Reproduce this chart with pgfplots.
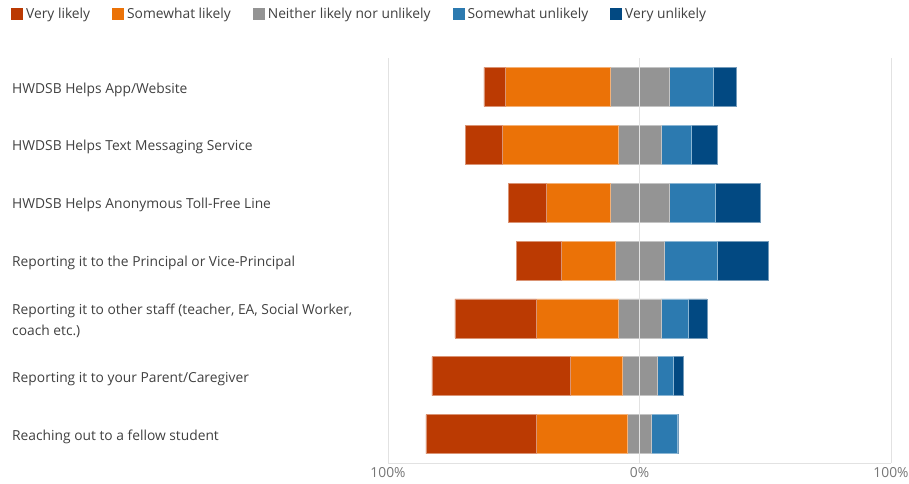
\documentclass[border=0pt]{standalone}
\usepackage{pgfplots}
\pgfplotsset{compat=1.18}
\usepackage{pgfplotstable}
\usepackage{fontspec}
\setmainfont{Open Sans}

\definecolor{vl}{RGB}{187,58,2}
\definecolor{sl}{RGB}{235,114,7}
\definecolor{nn}{RGB}{148,148,148}
\definecolor{su}{RGB}{44,122,176}
\definecolor{vu}{RGB}{2,73,130}
\definecolor{gridc}{RGB}{226,226,226}
\definecolor{txt}{RGB}{64,64,64}
\definecolor{tick}{RGB}{118,118,118}

% percentages per answer, rows top to bottom
\pgfplotstableread{
idx vl sl n su vu
0 8.5 41.6 23.5 17.4 9.3
1 14.8 45.9 17.0 12.0 10.4
2 15.0 25.5 23.5 18.3 17.9
3 18.0 21.4 19.4 21.2 20.2
4 32.4 32.4 17.2 10.8 7.4
5 55.1 20.5 13.9 6.5 4.1
6 43.7 36.4 9.7 10.1 0.5
}\likert

\begin{document}
\begin{tikzpicture}[x=1pt,y=1pt,font=\fontsize{13.8}{21}\selectfont]
\path[use as bounding box] (0,0) rectangle (909,483);
% the axis runs 0..200, with 100 as the neutral centre
\begin{axis}[
    at={(388pt,20pt)}, anchor=south west,
    scale only axis, width=503pt, height=405pt,
    xbar stacked, bar width=39pt,
    xmin=0, xmax=200,
    ymin=-0.5, ymax=6.5, y dir=reverse,
    axis on top,
    axis lines*=left,
    axis line style={-, draw=gridc},
    y axis line style={draw=none},
    xmajorgrids, grid style={gridc, line width=0.8pt},
    xtick={0,100,200},
    xticklabels={100\%,0\%,100\%},
    xticklabel style={text=tick, inner sep=0pt, yshift=-4pt},
    major tick length=0pt,
    ytick={0,...,6},
    yticklabels={
        HWDSB Helps App/Website,
        HWDSB Helps Text Messaging Service,
        HWDSB Helps Anonymous Toll-Free Line,
        Reporting it to the Principal or Vice-Principal,
        {Reporting it to other staff (teacher, EA, Social Worker,\\coach etc.)},
        Reporting it to your Parent/Caregiver,
        Reaching out to a fellow student},
    yticklabel style={anchor=west, xshift=-376pt, yshift=-2.5pt, inner sep=0pt, align=left, text=txt},
    legend columns=5,
    legend style={at={(axis description cs:-0.7555,1.108)}, anchor=west,
        draw=none, fill=none, text=txt,
        nodes={inner sep=2pt},
        /tikz/every even column/.append style={column sep=20pt},
        /tikz/every odd column/.append style={column sep=1pt}},
    lg/.style={legend image code/.code={\fill[##1,draw=none] (0pt,-6pt) rectangle (12pt,6pt);}},
]
\addplot[forget plot, draw=none, fill=none] table[y=idx, x expr={100-\thisrow{vl}-\thisrow{sl}-0.5*\thisrow{n}}] {\likert};
\addplot[lg, fill=vl, draw=vl!55!white, line width=0.5pt] table[y=idx, x=vl] {\likert};
\addlegendentry{Very likely}
\addplot[lg, fill=sl, draw=sl!55!white, line width=0.5pt] table[y=idx, x=sl] {\likert};
\addlegendentry{Somewhat likely}
\addplot[lg, fill=nn, draw=nn!55!white, line width=0.5pt] table[y=idx, x=n] {\likert};
\addlegendentry{Neither likely nor unlikely}
\addplot[lg, fill=su, draw=su!55!white, line width=0.5pt] table[y=idx, x=su] {\likert};
\addlegendentry{Somewhat unlikely}
\addplot[lg, fill=vu, draw=vu!55!white, line width=0.5pt] table[y=idx, x=vu] {\likert};
\addlegendentry{Very unlikely}
\end{axis}
\end{tikzpicture}
\end{document}
